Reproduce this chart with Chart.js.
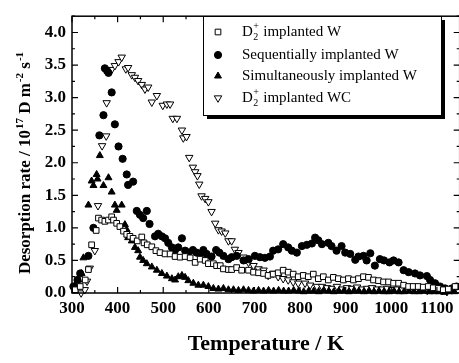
<!DOCTYPE html>
<html>
<head>
<meta charset="utf-8">
<script src="https://cdn.jsdelivr.net/npm/chart.js@4.4.1/dist/chart.umd.min.js"></script>
<style>
  body { margin: 0; overflow: hidden; background: #fff; }
  #wrap { width: 465px; height: 363px; }
</style>
</head>
<body>
<div id="wrap"><canvas id="tds" width="465" height="363"></canvas></div>
<script>
// series data (temperature in K, desorption rate in 1e17 D m^-2 s^-1)
const tempD2W = [307, 318, 329, 336, 343, 353, 358, 365, 372, 380, 387, 391, 398, 405, 413, 420, 427, 434, 443, 453, 458, 465, 475, 484, 493, 504, 515, 526, 537, 548, 559, 570, 581, 592, 599, 610, 617, 625, 632, 643, 650, 661, 672, 687, 698, 709, 720, 730, 741, 752, 763, 774, 785, 796, 807, 818, 829, 840, 851, 862, 873, 884, 895, 906, 917, 928, 939, 950, 961, 972, 983, 994, 1005, 1016, 1027, 1038, 1048, 1059, 1070, 1081, 1092, 1103, 1114, 1125, 1140];
const rateD2W = [0.05, 0.10, 0.20, 0.36, 0.74, 0.96, 1.15, 1.12, 1.10, 1.12, 1.17, 1.12, 1.07, 1.02, 0.95, 0.90, 0.87, 0.84, 0.80, 0.86, 0.77, 0.74, 0.71, 0.65, 0.62, 0.60, 0.60, 0.56, 0.55, 0.56, 0.54, 0.47, 0.52, 0.50, 0.45, 0.45, 0.42, 0.42, 0.37, 0.36, 0.36, 0.39, 0.35, 0.35, 0.32, 0.31, 0.30, 0.27, 0.29, 0.31, 0.35, 0.32, 0.29, 0.25, 0.27, 0.25, 0.29, 0.22, 0.25, 0.20, 0.24, 0.22, 0.20, 0.22, 0.20, 0.22, 0.25, 0.24, 0.20, 0.19, 0.17, 0.17, 0.15, 0.15, 0.12, 0.10, 0.10, 0.10, 0.09, 0.10, 0.08, 0.07, 0.05, 0.06, 0.10];

const tempSeq = [303, 312, 318, 336, 347, 360, 369, 372, 377, 380, 387, 394, 402, 411, 420, 423, 434, 442, 449, 456, 464, 470, 482, 489, 497, 504, 511, 519, 526, 533, 541, 548, 555, 565, 573, 581, 588, 595, 606, 616, 623, 632, 643, 650, 661, 676, 687, 701, 712, 723, 734, 741, 752, 763, 774, 782, 793, 804, 815, 826, 833, 840, 848, 862, 869, 880, 891, 899, 910, 921, 928, 939, 946, 954, 964, 975, 984, 996, 1005, 1016, 1027, 1038, 1052, 1063, 1078, 1085, 1096, 1107, 1118, 1133, 1143];
const rateSeq = [0.10, 0.20, 0.30, 0.57, 1.00, 2.42, 2.73, 3.45, 3.41, 3.38, 3.08, 2.59, 2.25, 2.06, 1.82, 1.66, 1.71, 1.26, 1.20, 1.15, 1.26, 1.06, 0.87, 0.91, 0.87, 0.84, 0.77, 0.70, 0.66, 0.70, 0.84, 0.65, 0.62, 0.66, 0.62, 0.60, 0.66, 0.60, 0.56, 0.66, 0.62, 0.57, 0.52, 0.55, 0.57, 0.50, 0.52, 0.57, 0.55, 0.54, 0.56, 0.65, 0.67, 0.75, 0.70, 0.65, 0.62, 0.72, 0.74, 0.76, 0.85, 0.81, 0.75, 0.77, 0.72, 0.65, 0.72, 0.62, 0.60, 0.51, 0.56, 0.57, 0.50, 0.61, 0.42, 0.52, 0.50, 0.47, 0.50, 0.47, 0.35, 0.32, 0.30, 0.27, 0.26, 0.20, 0.15, 0.10, 0.07, 0.07, 0.10];

const tempSim = [307, 314, 321, 325, 336, 343, 347, 354, 356, 361, 369, 380, 387, 394, 398, 409, 416, 420, 423, 431, 438, 445, 449, 456, 464, 475, 486, 497, 508, 519, 526, 533, 541, 548, 555, 566, 577, 588, 599, 610, 621, 632, 643, 654, 665, 676, 687, 698, 709, 720, 731, 742, 753, 764, 775, 786, 797, 808, 819, 830, 841, 852, 863, 874, 885, 896, 907, 918, 929, 940, 951, 962, 973, 984, 995, 1006, 1017, 1028, 1039, 1050, 1061, 1072, 1083, 1094, 1105, 1116, 1127, 1138];
const rateSim = [0.12, 0.20, 0.30, 0.54, 1.35, 1.72, 1.65, 1.82, 1.75, 2.11, 1.65, 1.77, 1.55, 1.35, 1.27, 1.35, 1.05, 0.97, 0.85, 0.80, 0.70, 0.65, 0.55, 0.50, 0.45, 0.40, 0.35, 0.30, 0.26, 0.22, 0.20, 0.25, 0.27, 0.24, 0.19, 0.15, 0.12, 0.12, 0.10, 0.07, 0.06, 0.07, 0.05, 0.05, 0.04, 0.05, 0.04, 0.03, 0.04, 0.03, 0.04, 0.03, 0.04, 0.03, 0.03, 0.04, 0.03, 0.02, 0.03, 0.03, 0.02, 0.04, 0.03, 0.02, 0.03, 0.03, 0.02, 0.03, 0.03, 0.02, 0.03, 0.02, 0.03, 0.02, 0.02, 0.03, 0.02, 0.02, 0.03, 0.02, 0.02, 0.03, 0.02, 0.02, 0.02, 0.01, 0.02, 0.02];

const tempWC = [320, 328, 333, 339, 350, 357, 366, 375, 376, 387, 394, 402, 409, 418, 423, 431, 438, 445, 453, 460, 467, 475, 486, 499, 508, 515, 521, 530, 541, 544, 551, 557, 565, 570, 575, 579, 584, 592, 599, 606, 614, 621, 628, 636, 643, 650, 657, 665, 676, 687, 698, 709, 720, 730, 741, 752, 763, 774, 785, 796, 811, 822, 837, 848, 859, 870, 881, 892, 903, 914, 925, 936, 947, 958, 969, 980, 991, 1002, 1013, 1024, 1035, 1046, 1057, 1068, 1079, 1090, 1101, 1112, 1122, 1133];
const rateWC = [0.00, 0.05, 0.18, 0.38, 0.65, 1.34, 2.26, 2.41, 2.92, 3.43, 3.49, 3.55, 3.62, 3.44, 3.46, 3.35, 3.31, 3.26, 3.20, 3.13, 3.16, 2.93, 3.03, 2.88, 2.90, 2.90, 2.68, 2.68, 2.50, 2.38, 2.40, 2.08, 1.93, 1.86, 1.80, 1.67, 1.49, 1.45, 1.40, 1.25, 1.07, 0.97, 0.95, 0.92, 0.80, 0.80, 0.67, 0.62, 0.55, 0.47, 0.42, 0.37, 0.35, 0.27, 0.30, 0.25, 0.22, 0.20, 0.17, 0.15, 0.15, 0.12, 0.10, 0.10, 0.08, 0.07, 0.10, 0.06, 0.08, 0.07, 0.09, 0.06, 0.07, 0.08, 0.06, 0.06, 0.07, 0.05, 0.06, 0.05, 0.07, 0.05, 0.06, 0.08, 0.04, 0.05, 0.07, 0.04, 0.02, 0.05];

const xTicks = [300, 400, 500, 600, 700, 800, 900, 1000, 1100];
const yTicks = [0, 0.5, 1, 1.5, 2, 2.5, 3, 3.5, 4];

const serif = '"Liberation Serif", "Times New Roman", serif';

function pts(xs, ys) {
  return xs.map((x, i) => ({ x: x, y: ys[i] }));
}

// marker styles, shared by the datasets and the legend
const styles = [
  { label: 'D2+ implanted W', pointStyle: 'rect', radius: 4, rotation: 0, fill: '#fff' },
  { label: 'Sequentially implanted W', pointStyle: 'circle', radius: 3.6, rotation: 0, fill: '#000' },
  { label: 'Simultaneously implanted W', pointStyle: 'triangle', radius: 4, rotation: 0, fill: '#000' },
  { label: 'D2+ implanted WC', pointStyle: 'triangle', radius: 4.3, rotation: 180, fill: '#fff' }
];
const series = [pts(tempD2W, rateD2W), pts(tempSeq, rateSeq), pts(tempSim, rateSim), pts(tempWC, rateWC)];

// frame with inward ticks on all four sides
const framePlugin = {
  id: 'frame',
  afterDatasetsDraw(chart) {
    const ctx = chart.ctx, a = chart.chartArea;
    const xs = chart.scales.x, ys = chart.scales.y;
    ctx.save();
    ctx.strokeStyle = '#000';
    ctx.lineWidth = 1.5;
    ctx.strokeRect(a.left, a.top, a.right - a.left, a.bottom - a.top);
    ctx.lineWidth = 1.2;
    ctx.beginPath();
    for (let t = 300; t <= 1150; t += 50) {
      const px = xs.getPixelForValue(t);
      const len = t % 100 === 0 ? 6 : 3;
      ctx.moveTo(px, a.bottom); ctx.lineTo(px, a.bottom - len);
      ctx.moveTo(px, a.top); ctx.lineTo(px, a.top + len);
    }
    for (let v = 0; v <= 4.25; v += 0.25) {
      const py = ys.getPixelForValue(v);
      const len = Math.abs(v * 2 - Math.round(v * 2)) < 1e-6 ? 6 : 3;
      ctx.moveTo(a.left, py); ctx.lineTo(a.left + len, py);
      ctx.moveTo(a.right, py); ctx.lineTo(a.right - len, py);
    }
    ctx.stroke();
    ctx.restore();
  }
};

// y title with superscripts
const yTitlePlugin = {
  id: 'ytitle',
  afterDraw(chart) {
    const ctx = chart.ctx;
    const parts = [
      ['Desorption rate / 10', false], ['17', true], [' D m', false], ['-2', true], [' s', false], ['-1', true]
    ];
    const big = 'bold 17px ' + serif, small = 'bold 11px ' + serif;
    ctx.save();
    let total = 0;
    parts.forEach(p => { ctx.font = p[1] ? small : big; total += ctx.measureText(p[0]).width + (p[1] ? 1 : 0); });
    ctx.translate(30, 163);
    ctx.rotate(-Math.PI / 2);
    ctx.fillStyle = '#000';
    ctx.textBaseline = 'alphabetic';
    let x = -total / 2;
    parts.forEach(p => {
      ctx.font = p[1] ? small : big;
      ctx.fillText(p[0], x + (p[1] ? 1 : 0), p[1] ? -7 : 0);
      x += ctx.measureText(p[0]).width + (p[1] ? 1 : 0);
    });
    ctx.restore();
  }
};

// boxed legend with drop shadow
const legendPlugin = {
  id: 'boxlegend',
  afterDraw(chart) {
    const ctx = chart.ctx;
    const bx = 203, by = 16, bw = 238, bh = 99;
    ctx.save();
    ctx.fillStyle = '#000';
    ctx.fillRect(bx + 4, by + 4, bw, bh);
    ctx.fillStyle = '#fff';
    ctx.fillRect(bx, by, bw, bh);
    ctx.strokeStyle = '#000';
    ctx.lineWidth = 1;
    ctx.strokeRect(bx + 0.5, by + 0.5, bw, bh);
    const rows = [32, 55, 76, 98];
    styles.forEach((s, i) => {
      ctx.fillStyle = s.fill;
      ctx.strokeStyle = '#000';
      ctx.lineWidth = 1;
      Chart.helpers.drawPoint(ctx, { pointStyle: s.pointStyle, radius: s.radius, rotation: s.rotation, borderWidth: 1 }, 218, rows[i]);
    });
    ctx.fillStyle = '#000';
    ctx.textBaseline = 'middle';
    const f = '15px ' + serif, fs = '10px ' + serif;
    styles.forEach((s, i) => {
      const y = rows[i];
      let x = 242;
      if (s.label.startsWith('D2+')) {
        ctx.font = f;
        ctx.fillText('D', x, y);
        x += ctx.measureText('D').width;
        ctx.font = fs;
        ctx.fillText('2', x + 0.5, y + 5);
        ctx.fillText('+', x + 0.5, y - 6);
        x += ctx.measureText('+').width + 1;
        ctx.font = f;
        ctx.fillText(s.label.slice(3), x, y);
      } else {
        ctx.font = f;
        ctx.fillText(s.label, x, y);
      }
    });
    ctx.restore();
  }
};

new Chart(document.getElementById('tds'), {
  type: 'scatter',
  data: {
    datasets: series.map((d, i) => ({
      label: styles[i].label,
      data: d,
      pointStyle: styles[i].pointStyle,
      pointRadius: styles[i].radius,
      pointRotation: styles[i].rotation,
      pointBackgroundColor: styles[i].fill,
      pointBorderColor: '#000',
      pointBorderWidth: 1,
      showLine: false,
      clip: false
    }))
  },
  options: {
    responsive: false,
    animation: false,
    events: [],
    layout: { padding: { top: 10, right: 1, left: 0, bottom: 0 } },
    plugins: { legend: { display: false }, tooltip: { enabled: false } },
    scales: {
      x: {
        type: 'linear',
        min: 300,
        max: 1150,
        afterFit(s) { s.height = 70; },
        afterBuildTicks(s) { s.ticks = xTicks.map(v => ({ value: v })); },
        grid: { display: false, drawTicks: false },
        border: { display: false },
        ticks: { padding: 5, color: '#000', maxRotation: 0, font: { family: serif, size: 17, weight: 'bold' }, callback: v => String(v) },
        title: { display: true, text: 'Temperature / K', color: '#000', padding: { top: 7, bottom: 5 }, font: { family: serif, size: 22, weight: 'bold' } }
      },
      y: {
        type: 'linear',
        min: 0,
        max: 4.25,
        afterFit(s) { s.width = 72; },
        afterBuildTicks(s) { s.ticks = yTicks.map(v => ({ value: v })); },
        grid: { display: false, drawTicks: false },
        border: { display: false },
        ticks: { padding: 6, color: '#000', font: { family: serif, size: 17, weight: 'bold' }, callback: v => v.toFixed(1) }
      }
    }
  },
  plugins: [framePlugin, yTitlePlugin, legendPlugin]
});
</script>
</body>
</html>
